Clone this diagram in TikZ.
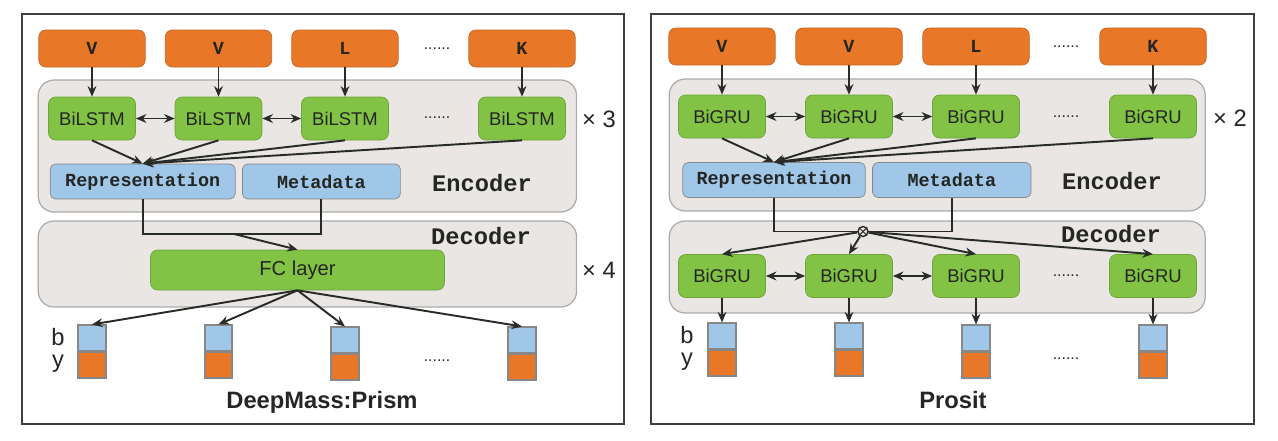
\documentclass[tikz,border=0pt]{standalone}
\usepackage{fontspec}
\setmainfont{Liberation Sans}
\setmonofont{Liberation Mono}
\definecolor{nnorange}{RGB}{232,120,40}
\definecolor{nngreen}{RGB}{130,194,68}
\definecolor{nnblue}{RGB}{160,198,232}
\definecolor{nnregion}{RGB}{233,230,227}
\definecolor{nngray}{RGB}{135,135,135}
\definecolor{nnline}{RGB}{40,44,40}
\definecolor{nntext}{RGB}{35,38,35}
\usetikzlibrary{arrows.meta,positioning,calc}

\tikzset{
  inbox/.style={draw=nnorange!85!black, fill=nnorange, rounded corners=4pt, minimum width=2.13cm, minimum height=0.74cm, font=\ttfamily\bfseries\fontsize{10.5}{12}\selectfont, text=nntext},
  rnnbox/.style={draw=nngreen!85!black, fill=nngreen, rounded corners=4pt, minimum width=1.74cm, minimum height=0.86cm, font=\fontsize{10.5}{12}\selectfont, text=nntext},
  featbox/.style={draw=nngray, fill=nnblue, rounded corners=3pt, minimum height=0.70cm, font=\ttfamily\bfseries\fontsize{10.5}{12}\selectfont, text=nntext},
  region/.style={draw=nngray!70, fill=nnregion, rounded corners=9pt, line width=0.7pt},
  regtitle/.style={font=\ttfamily\bfseries\fontsize{13.5}{15}\selectfont, text=nntext},
  outb/.style={draw=nngray, fill=nnblue, minimum width=0.55cm, minimum height=0.51cm, inner sep=0pt, line width=0.9pt},
  outy/.style={draw=nngray, fill=nnorange, minimum width=0.55cm, minimum height=0.51cm, inner sep=0pt, line width=0.9pt},
  link/.style={-{Stealth[length=6pt,width=5pt]}, line width=1.1pt, nnline},
  dlink/.style={{Stealth[length=6pt,width=5pt]}-{Stealth[length=6pt,width=5pt]}, line width=1.1pt, nnline},
  wire/.style={line width=1.1pt, nnline},
  dots/.style={font=\fontsize{9}{10}\selectfont, text=nntext},
  times/.style={font=\fontsize{13.5}{15}\selectfont, text=nntext},
  side/.style={font=\fontsize{13.5}{15}\selectfont, text=nntext, inner sep=0pt},
  caption/.style={font=\bfseries\fontsize{13.5}{15}\selectfont, text=nntext},
  panel/.style={draw=nnline!90, line width=1.2pt}
}

\begin{document}
\begin{tikzpicture}[x=0.02cm, y=-0.02cm]
  \useasboundingbox (0,0) rectangle (1278,440);

  % ---------------- DeepMass:Prism ----------------
  \draw[panel] (22,14) rectangle (624,424);

  % Input residues
  \node[inbox] (inL1) at (92,48.5) {V};
  \node[inbox] (inL2) at (218.5,48.5) {V};
  \node[inbox] (inL3) at (345,48.5) {L};
  \node[dots] (inLd) at (437,49) {......};
  \node[inbox] (inL4) at (522,48.5) {K};

  % Encoder
  \node[region, minimum width=10.77cm, minimum height=2.64cm] (encL) at (307.4,146) {};
  \node[rnnbox] (lstm1) at (92,118.5) {BiLSTM};
  \node[rnnbox] (lstm2) at (218.5,118.5) {BiLSTM};
  \node[rnnbox] (lstm3) at (345,118.5) {BiLSTM};
  \node[dots] (lstmd) at (437,118) {......};
  \node[rnnbox] (lstm4) at (522,118.5) {BiLSTM};
  \node[times] (xL3) at (599,119) {× 3};
  \node[featbox, minimum width=3.70cm] (repL) at (142.7,181.5) {Representation};
  \node[featbox, minimum width=3.16cm] (metaL) at (321.4,181.5) {Metadata};
  \node[regtitle] (encLt) at (482,183) {Encoder};

  \draw[link] (inL1) -- (lstm1);
  \draw[link] (inL2) -- (lstm2);
  \draw[link] (inL3) -- (lstm3);
  \draw[link] (inL4) -- (lstm4);
  \draw[dlink] (lstm1) -- (lstm2);
  \draw[dlink] (lstm2) -- (lstm3);
  \draw[link] (lstm1.south) -- (repL.north);
  \draw[link] (lstm2.south) -- (repL.north);
  \draw[link] (lstm3.south) -- (repL.north);
  \draw[link] (lstm4.south) -- (repL.north);

  % Decoder
  \node[region, minimum width=10.77cm, minimum height=1.72cm] (decL) at (307.4,264) {};
  \node[regtitle] (decLt) at (481,236) {Decoder};
  \node[rnnbox, minimum width=5.88cm, minimum height=0.8cm, font=\fontsize{11.5}{13}\selectfont] (fcL) at (297.5,270) {FC layer};
  \node[times] (xL4) at (599,270) {× 4};
  \coordinate (jL) at (234,234);
  \draw[wire] (repL.south) |- (jL) -| (metaL.south);
  \draw[link] (jL) -- (fcL.north);

  % Outputs
  \node[outb] (bL1) at (92,338) {};
  \node[outy, below=0pt of bL1] (yL1) {};
  \node[outb] (bL2) at (218.5,338) {};
  \node[outy, below=0pt of bL2] (yL2) {};
  \node[outb] (bL3) at (345,340) {};
  \node[outy, below=0pt of bL3] (yL3) {};
  \node[dots] (outLd) at (437,361) {......};
  \node[outb] (bL4) at (522,340) {};
  \node[outy, below=0pt of bL4] (yL4) {};
  \draw[link] (fcL.south) -- (bL1.north);
  \draw[link] (fcL.south) -- (bL2.north);
  \draw[link] (fcL.south) -- (bL3.north);
  \draw[link] (fcL.south) -- (bL4.north);
  \node[side] (bLt) at (58,337) {b};
  \node[side] (yLt) at (58,364) {y};
  \node[caption] (capL) at (322,402) {DeepMass:Prism};

  % ---------------- Prosit ----------------
  \draw[panel] (651,14) rectangle (1254,424);

  % Input residues
  \node[inbox] (inR1) at (722,46.5) {V};
  \node[inbox] (inR2) at (849,46.5) {V};
  \node[inbox] (inR3) at (976,46.5) {L};
  \node[dots] (inRd) at (1066,47) {......};
  \node[inbox] (inR4) at (1153,46.5) {K};

  % Encoder
  \node[region, minimum width=10.72cm, minimum height=2.64cm] (encR) at (937.2,145) {};
  \node[rnnbox] (gru1) at (722,116.5) {BiGRU};
  \node[rnnbox] (gru2) at (849,116.5) {BiGRU};
  \node[rnnbox] (gru3) at (976,116.5) {BiGRU};
  \node[dots] (grud) at (1066,117) {......};
  \node[rnnbox] (gru4) at (1153,116.5) {BiGRU};
  \node[times] (xR2) at (1230,118) {× 2};
  \node[featbox, minimum width=3.65cm] (repR) at (774,180) {Representation};
  \node[featbox, minimum width=3.17cm] (metaR) at (951.8,180) {Metadata};
  \node[regtitle] (encRt) at (1112,181) {Encoder};

  \draw[link] (inR1) -- (gru1);
  \draw[link] (inR2) -- (gru2);
  \draw[link] (inR3) -- (gru3);
  \draw[link] (inR4) -- (gru4);
  \draw[dlink] (gru1) -- (gru2);
  \draw[dlink] (gru2) -- (gru3);
  \draw[link] (gru1.south) -- (repR.north);
  \draw[link] (gru2.south) -- (repR.north);
  \draw[link] (gru3.south) -- (repR.north);
  \draw[link] (gru4.south) -- (repR.north);

  % Decoder
  \node[region, minimum width=10.72cm, minimum height=1.84cm] (decR) at (937.2,267) {};
  \node[regtitle] (decRt) at (1111,234) {Decoder};
  \node[rnnbox] (dgru1) at (722,276) {BiGRU};
  \node[rnnbox] (dgru2) at (849,276) {BiGRU};
  \node[rnnbox] (dgru3) at (976,276) {BiGRU};
  \node[dots] (dgrud) at (1066,276) {......};
  \node[rnnbox] (dgru4) at (1153,276) {BiGRU};
  \coordinate (jR) at (863,231.5);
  \draw[wire] (repR.south) |- (jR) -| (metaR.south);
  \node[circle, draw=nnline, fill=nnregion, line width=0.8pt, minimum size=0.2cm, inner sep=0pt] (mul) at (jR) {};
  \draw[nnline, line width=0.6pt] (mul.north west) -- (mul.south east);
  \draw[nnline, line width=0.6pt] (mul.north east) -- (mul.south west);
  \draw[link] (mul) -- (dgru1.north);
  \draw[link] (mul) -- (dgru2.north);
  \draw[link] (mul) -- (dgru3.north);
  \draw[link] (mul) -- (dgru4.north);
  \draw[dlink] (dgru1) -- (dgru2);
  \draw[dlink] (dgru2) -- (dgru3);

  % Outputs
  \node[outb] (bR1) at (722,336) {};
  \node[outy, below=0pt of bR1] (yR1) {};
  \node[outb] (bR2) at (849,336) {};
  \node[outy, below=0pt of bR2] (yR2) {};
  \node[outb] (bR3) at (976,338) {};
  \node[outy, below=0pt of bR3] (yR3) {};
  \node[dots] (outRd) at (1066,359) {......};
  \node[outb] (bR4) at (1153,338) {};
  \node[outy, below=0pt of bR4] (yR4) {};
  \draw[link] (dgru1) -- (bR1);
  \draw[link] (dgru2) -- (bR2);
  \draw[link] (dgru3) -- (bR3);
  \draw[link] (dgru4) -- (bR4);
  \node[side] (bRt) at (687,335) {b};
  \node[side] (yRt) at (687,362) {y};
  \node[caption] (capR) at (953,400) {Prosit};
\end{tikzpicture}
\end{document}
